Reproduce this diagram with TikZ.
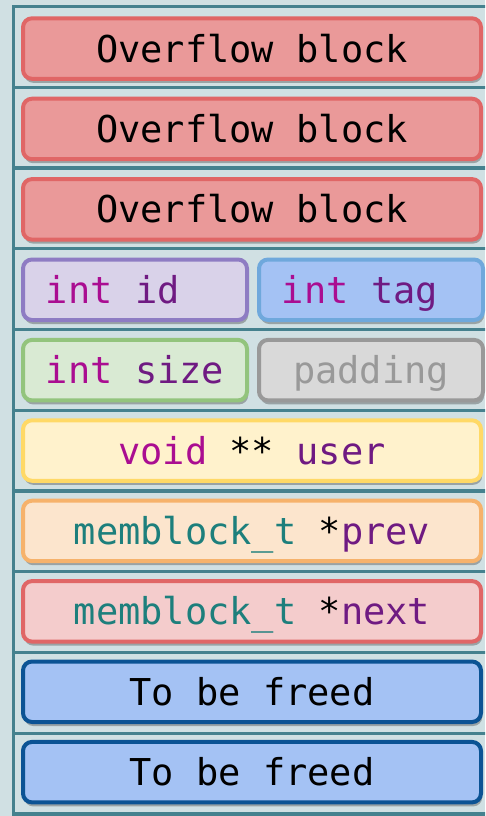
\documentclass[tikz,border=0pt]{standalone}
\usepackage{fontspec}
\setmonofont{DejaVu Sans Mono}
\usetikzlibrary{shadows}

\definecolor{bgcol}{HTML}{D0E0E3}
\definecolor{framecol}{HTML}{45818E}
\definecolor{redfill}{HTML}{EA9999}
\definecolor{reddraw}{HTML}{E06666}
\definecolor{lilacfill}{HTML}{D9D2E9}
\definecolor{lilacdraw}{HTML}{8E7CC3}
\definecolor{bluefill}{HTML}{A4C2F4}
\definecolor{bluedraw}{HTML}{6FA8DC}
\definecolor{greenfill}{HTML}{D9EAD3}
\definecolor{greendraw}{HTML}{93C47D}
\definecolor{greyfill}{HTML}{D9D9D9}
\definecolor{greydraw}{HTML}{999999}
\definecolor{yellowfill}{HTML}{FFF2CC}
\definecolor{yellowdraw}{HTML}{FFD966}
\definecolor{orangefill}{HTML}{FCE5CD}
\definecolor{orangedraw}{HTML}{F6B26B}
\definecolor{pinkfill}{HTML}{F4CCCC}
\definecolor{navydraw}{HTML}{0B5394}
\definecolor{kwcol}{HTML}{AA0D91}
\definecolor{idcol}{HTML}{6F1A82}
\definecolor{typecol}{HTML}{1D7F7C}

% syntax colouring helpers
\newcommand\kwd[1]{\textcolor{kwcol}{#1}}
\newcommand\idn[1]{\textcolor{idcol}{#1}}
\newcommand\typn[1]{\textcolor{typecol}{#1}}

\tikzset{
  field/.style={rounded corners=9pt, line width=4pt, inner sep=0pt,
    minimum height=60.5pt, text height=27pt, text depth=0pt,
    font=\ttfamily\fontsize{37}{40}\selectfont,
    drop shadow={shadow xshift=1.2pt, shadow yshift=-4pt, opacity=0.35, fill=black!80}},
  full/.style={field, minimum width=458pt},
  half/.style={field, minimum width=224pt},
  overflow/.style={full, fill=redfill, draw=reddraw},
  freed/.style={full, fill=bluefill, draw=navydraw},
  rule/.style={framecol, line width=3.4pt}
}

\begin{document}
\begin{tikzpicture}[x=1pt, y=-1pt]
  \fill[bgcol] (0,0) rectangle (485,816);
  \useasboundingbox (0,0) rectangle (485,816);
  \clip (0,0) rectangle (485,816);

  % frame: left edge, top edge and row separators
  \draw[rule] (13.5,816) -- (13.5,6.5) -- (495,6.5);
  \foreach \k in {1,...,10}
    \draw[rule] (13.5,6.5+80.75*\k) -- (495,6.5+80.75*\k);

  % rows
  \node[overflow] (of1) at (252,48.55) {Overflow block};
  \node[overflow] (of2) at (252,128.95) {Overflow block};
  \node[overflow] (of3) at (252,209.35) {Overflow block};

  \node[half, fill=lilacfill, draw=lilacdraw] (id) at (135,289.75)
    {\kwd{int} \idn{id}\hphantom{xx}};
  \node[half, fill=bluefill, draw=bluedraw] (tag) at (371,289.75)
    {\kwd{int} \idn{tag}\hphantom{x}};

  \node[half, fill=greenfill, draw=greendraw] (size) at (135,370.15)
    {\kwd{int} \idn{size}};
  \node[half, fill=greyfill, draw=greydraw, text=greydraw] (pad) at (371,370.15)
    {padding};

  \node[full, fill=yellowfill, draw=yellowdraw] (user) at (252,450.55)
    {\kwd{void} ** \idn{user}};
  \node[full, fill=orangefill, draw=orangedraw] (prev) at (252,530.95)
    {\typn{memblock\_t} *\idn{prev}};
  \node[full, fill=pinkfill, draw=reddraw] (next) at (252,611.35)
    {\typn{memblock\_t} *\idn{next}};

  \node[freed] (fr1) at (252,691.75) {To be freed};
  \node[freed] (fr2) at (252,772.15) {To be freed};
\end{tikzpicture}
\end{document}
